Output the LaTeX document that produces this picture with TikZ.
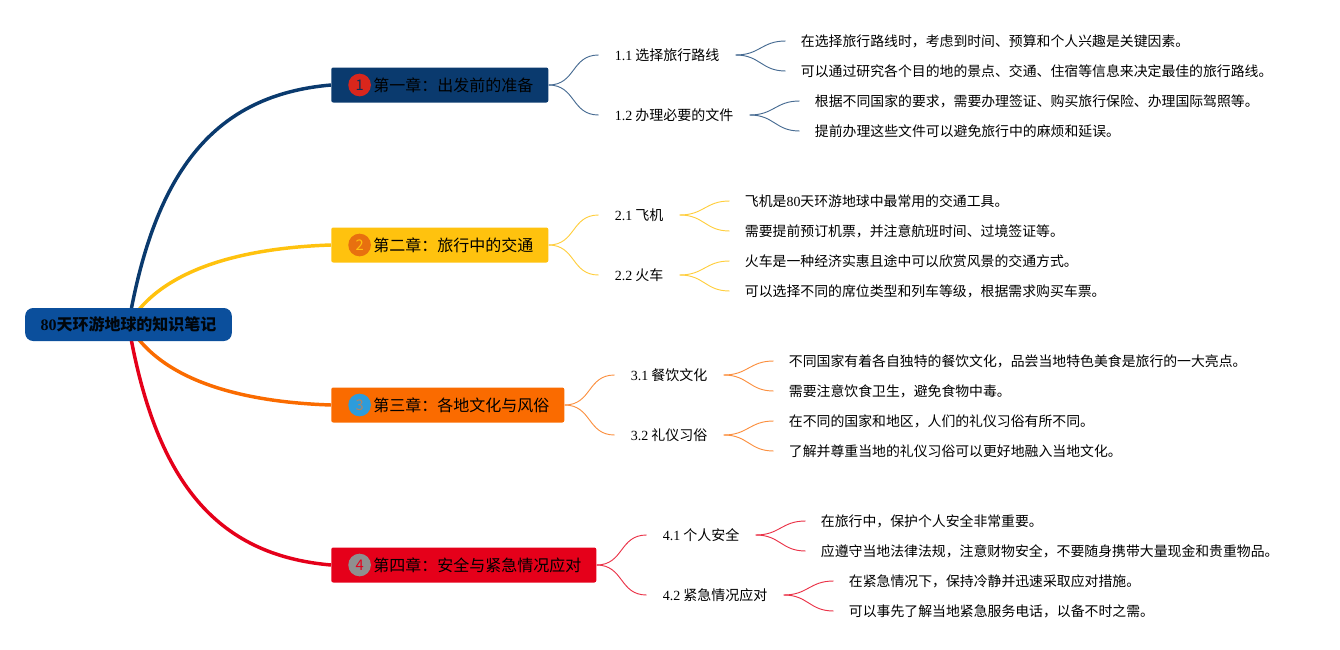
\documentclass[tikz,border=0pt]{standalone}
\usepackage{fontspec}
\setmainfont{Liberation Serif}
\newfontfamily\cjk{Noto Sans CJK SC}
\newcommand{\lat}[1]{{\rmfamily #1}}
\usetikzlibrary{positioning, backgrounds}
\definecolor{mroot}{HTML}{0B4F9C}
\definecolor{mnavy}{HTML}{0A3A6E}
\definecolor{mgold}{HTML}{FFC20E}
\definecolor{morange}{HTML}{FA6B00}
\definecolor{mred}{HTML}{E5001A}
\definecolor{dred}{HTML}{D9261C}
\definecolor{dorange}{HTML}{E8700F}
\definecolor{dblue}{HTML}{2D9CDB}
\definecolor{dgray}{HTML}{8F8F8F}
\tikzstyle{root} = [rectangle, rounded corners=6pt, minimum width=155pt, minimum height=24.75pt, fill=mroot, text=black!90!mnavy, font=\cjk\bfseries\fontsize{12}{14}\selectfont]
\tikzstyle{chapter} = [rectangle, rounded corners=1.5pt, anchor=west, minimum height=26.25pt, inner xsep=11.25pt, text=black, font=\cjk\fontsize{12}{14}\selectfont]
\tikzstyle{numdot} = [circle, minimum size=17pt, inner sep=0pt, font=\cjk\fontsize{11}{13}\selectfont]
\tikzstyle{topic} = [inner xsep=12pt, inner ysep=2pt, font=\cjk\fontsize{10.5}{12}\selectfont]
\tikzstyle{leaf} = [inner xsep=11.25pt, inner ysep=2pt, font=\cjk\fontsize{10.4}{12}\selectfont]
\tikzstyle{bough} = [line width=2.6pt]
\tikzstyle{twig} = [line width=0.7pt, out=0, in=180, looseness=1.2]

\begin{document}
\begin{tikzpicture}[x=0.75pt, y=-0.75pt, node distance=37.5pt]
  \useasboundingbox (0,0) rectangle (1340,650);
  \node (r) [root] at (128.5,324.5) {\lat{80}天环游地球的知识笔记};

  \node (c1) [chapter, fill=mnavy] at (331,85) {\hspace{20.25pt}第一章：出发前的准备};
  \node (c2) [chapter, fill=mgold] at (331,245) {\hspace{20.25pt}第二章：旅行中的交通};
  \node (c3) [chapter, fill=morange] at (331,405) {\hspace{20.25pt}第三章：各地文化与风俗};
  \node (c4) [chapter, fill=mred] at (331,565) {\hspace{20.25pt}第四章：安全与紧急情况应对};
  \node (d1) [numdot, fill=dred, text=mnavy!80!black, right=12.75pt of c1.west] {1};
  \node (d2) [numdot, fill=dorange, text=mgold, right=12.75pt of c2.west] {2};
  \node (d3) [numdot, fill=dblue, text=dgray!70!morange, right=12.75pt of c3.west] {3};
  \node (d4) [numdot, fill=dgray, text=mred, right=12.75pt of c4.west] {4};

  \node (t11) [topic, right=of c1.east, yshift=22.5pt] {\lat{1.1} 选择旅行路线};
  \node (t12) [topic, right=of c1.east, yshift=-22.5pt] {\lat{1.2} 办理必要的文件};
  \node (t21) [topic, right=of c2.east, yshift=22.5pt] {\lat{2.1} 飞机};
  \node (t22) [topic, right=of c2.east, yshift=-22.5pt] {\lat{2.2} 火车};
  \node (t31) [topic, right=of c3.east, yshift=22.5pt] {\lat{3.1} 餐饮文化};
  \node (t32) [topic, right=of c3.east, yshift=-22.5pt] {\lat{3.2} 礼仪习俗};
  \node (t41) [topic, right=of c4.east, yshift=22.5pt] {\lat{4.1} 个人安全};
  \node (t42) [topic, right=of c4.east, yshift=-22.5pt] {\lat{4.2} 紧急情况应对};

  \node (l111) [leaf, right=of t11.east, yshift=10.5pt] {在选择旅行路线时，考虑到时间、预算和个人兴趣是关键因素。};
  \node (l112) [leaf, right=of t11.east, yshift=-12pt] {可以通过研究各个目的地的景点、交通、住宿等信息来决定最佳的旅行路线。};
  \node (l121) [leaf, right=of t12.east, yshift=10.5pt] {根据不同国家的要求，需要办理签证、购买旅行保险、办理国际驾照等。};
  \node (l122) [leaf, right=of t12.east, yshift=-12pt] {提前办理这些文件可以避免旅行中的麻烦和延误。};
  \node (l211) [leaf, right=of t21.east, yshift=10.5pt] {飞机是\lat{80}天环游地球中最常用的交通工具。};
  \node (l212) [leaf, right=of t21.east, yshift=-12pt] {需要提前预订机票，并注意航班时间、过境签证等。};
  \node (l221) [leaf, right=of t22.east, yshift=10.5pt] {火车是一种经济实惠且途中可以欣赏风景的交通方式。};
  \node (l222) [leaf, right=of t22.east, yshift=-12pt] {可以选择不同的席位类型和列车等级，根据需求购买车票。};
  \node (l311) [leaf, right=of t31.east, yshift=10.5pt] {不同国家有着各自独特的餐饮文化，品尝当地特色美食是旅行的一大亮点。};
  \node (l312) [leaf, right=of t31.east, yshift=-12pt] {需要注意饮食卫生，避免食物中毒。};
  \node (l321) [leaf, right=of t32.east, yshift=10.5pt] {在不同的国家和地区，人们的礼仪习俗有所不同。};
  \node (l322) [leaf, right=of t32.east, yshift=-12pt] {了解并尊重当地的礼仪习俗可以更好地融入当地文化。};
  \node (l411) [leaf, right=of t41.east, yshift=10.5pt] {在旅行中，保护个人安全非常重要。};
  \node (l412) [leaf, right=of t41.east, yshift=-12pt] {应遵守当地法律法规，注意财物安全，不要随身携带大量现金和贵重物品。};
  \node (l421) [leaf, right=of t42.east, yshift=10.5pt] {在紧急情况下，保持冷静并迅速采取应对措施。};
  \node (l422) [leaf, right=of t42.east, yshift=-12pt] {可以事先了解当地紧急服务电话，以备不时之需。};

  \begin{scope}[on background layer]
    \draw [bough, mnavy] (r.center) .. controls (155,170) and (215,95) .. (c1.west);
    \draw [bough, mgold] (r.center) .. controls (160,270) and (240,248) .. (c2.west);
    \draw [bough, morange] (r.center) .. controls (160,380) and (240,402) .. (c3.west);
    \draw [bough, mred] (r.center) .. controls (155,480) and (215,555) .. (c4.west);
  \end{scope}

  \draw [twig, mnavy!75] (c1.east) to (t11.west);
  \draw [twig, mnavy!75] (c1.east) to (t12.west);
  \draw [twig, mnavy!75] (t11.east) to (l111.west);
  \draw [twig, mnavy!75] (t11.east) to (l112.west);
  \draw [twig, mnavy!75] (t12.east) to (l121.west);
  \draw [twig, mnavy!75] (t12.east) to (l122.west);
  \draw [twig, mgold!80] (c2.east) to (t21.west);
  \draw [twig, mgold!80] (c2.east) to (t22.west);
  \draw [twig, mgold!80] (t21.east) to (l211.west);
  \draw [twig, mgold!80] (t21.east) to (l212.west);
  \draw [twig, mgold!80] (t22.east) to (l221.west);
  \draw [twig, mgold!80] (t22.east) to (l222.west);
  \draw [twig, morange!75] (c3.east) to (t31.west);
  \draw [twig, morange!75] (c3.east) to (t32.west);
  \draw [twig, morange!75] (t31.east) to (l311.west);
  \draw [twig, morange!75] (t31.east) to (l312.west);
  \draw [twig, morange!75] (t32.east) to (l321.west);
  \draw [twig, morange!75] (t32.east) to (l322.west);
  \draw [twig, mred!80] (c4.east) to (t41.west);
  \draw [twig, mred!80] (c4.east) to (t42.west);
  \draw [twig, mred!80] (t41.east) to (l411.west);
  \draw [twig, mred!80] (t41.east) to (l412.west);
  \draw [twig, mred!80] (t42.east) to (l421.west);
  \draw [twig, mred!80] (t42.east) to (l422.west);
\end{tikzpicture}
\end{document}
